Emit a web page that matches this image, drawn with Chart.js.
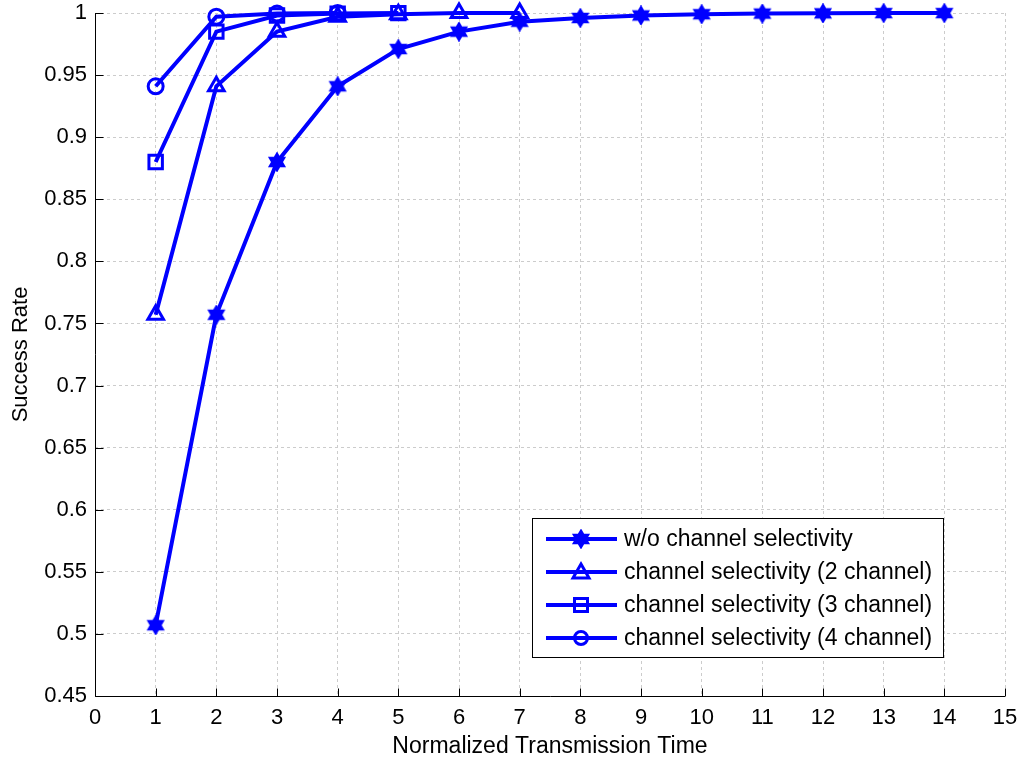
<!DOCTYPE html>
<html>
<head>
<meta charset="utf-8">
<script src="https://cdn.jsdelivr.net/npm/chart.js@4/dist/chart.umd.min.js"></script>
<style>
  body { margin: 0; background: #fff; }
  #wrap { width: 1023px; height: 760px; }
</style>
</head>
<body>
<div id="wrap"><canvas id="chart" width="1023" height="760"></canvas></div>
<script>
// valores
const xTicks = [0, 1, 2, 3, 4, 5, 6, 7, 8, 9, 10, 11, 12, 13, 14, 15];
const yTicks = [0.45, 0.5, 0.55, 0.6, 0.65, 0.7, 0.75, 0.8, 0.85, 0.9, 0.95, 1];

const xNoSel = [1, 2, 3, 4, 5, 6, 7, 8, 9, 10, 11, 12, 13, 14];
const yNoSel = [0.507, 0.757, 0.880, 0.941, 0.971, 0.985, 0.993, 0.996, 0.998, 0.999, 0.9995, 0.9997, 0.9999, 0.9999];

const x2ch = [1, 2, 3, 4, 5, 6, 7];
const y2ch = [0.757, 0.941, 0.985, 0.997, 0.999, 0.9999, 0.9999];

const x3ch = [1, 2, 3, 4, 5];
const y3ch = [0.880, 0.985, 0.998, 0.9995, 0.9999];

const x4ch = [1, 2, 3, 4];
const y4ch = [0.941, 0.997, 0.9995, 0.9999];

const labels = [
    'w/o channel selectivity',
    'channel selectivity (2 channel)',
    'channel selectivity (3 channel)',
    'channel selectivity (4 channel)'
];

const BLUE = '#0000ff';
const FONT = '"Liberation Sans", Arial, sans-serif';

// marcador hexagrama (estilo MATLAB 'h')
function hexagramPath(ctx, cx, cy, r) {
    ctx.beginPath();
    for (let i = 0; i < 12; i++) {
        const a = -Math.PI / 2 + i * Math.PI / 6;
        const rr = i % 2 === 0 ? r : r * 0.58;
        const px = cx + rr * Math.cos(a), py = cy + rr * Math.sin(a);
        if (i === 0) ctx.moveTo(px, py); else ctx.lineTo(px, py);
    }
    ctx.closePath();
}
const hexImg = document.createElement('canvas');
hexImg.width = 20; hexImg.height = 20;
{
    const c = hexImg.getContext('2d');
    hexagramPath(c, 10, 10, 8);
    c.fillStyle = BLUE; c.fill();
    c.lineWidth = 2.5; c.strokeStyle = BLUE; c.stroke();
}

const styles = [
    { pointStyle: hexImg, radius: 9 },
    { pointStyle: 'triangle', radius: 9 },
    { pointStyle: 'rect', radius: 9.5 },
    { pointStyle: 'circle', radius: 7.5 }
];

function toPoints(xs, ys) {
    return xs.map((x, i) => ({ x: x, y: ys[i] }));
}

const seriesX = [xNoSel, x2ch, x3ch, x4ch];
const seriesY = [yNoSel, y2ch, y3ch, y4ch];

const datasets = labels.map((label, i) => ({
    label: label,
    data: toPoints(seriesX[i], seriesY[i]),
    borderColor: BLUE,
    backgroundColor: 'rgba(0,0,0,0)',
    borderWidth: 4,
    pointStyle: styles[i].pointStyle,
    pointRadius: styles[i].radius,
    pointHoverRadius: styles[i].radius,
    pointBorderColor: BLUE,
    pointBackgroundColor: 'rgba(0,0,0,0)',
    pointBorderWidth: 3,
    tension: 0,
    clip: false,
    order: 3 - i
}));

// ticks para dentro + eixos sólidos + legenda dentro da área do gráfico
const matlabPlugin = {
    id: 'matlabStyle',
    afterDraw(chart) {
        const ctx = chart.ctx;
        const xs = chart.scales.x, ys = chart.scales.y;
        const area = chart.chartArea;
        ctx.save();
        ctx.setLineDash([]);
        ctx.strokeStyle = '#000';
        ctx.lineWidth = 1;
        ctx.beginPath();
        const left = Math.round(area.left) + 0.5;
        const bottom = Math.round(area.bottom) + 0.5;
        ctx.moveTo(left, Math.round(area.top));
        ctx.lineTo(left, bottom);
        ctx.lineTo(Math.round(area.right), bottom);
        ctx.stroke();

        ctx.beginPath();
        xTicks.forEach(v => {
            const px = Math.round(xs.getPixelForValue(v)) + 0.5;
            ctx.moveTo(px, bottom);
            ctx.lineTo(px, bottom - 8);
        });
        yTicks.forEach(v => {
            const py = Math.round(ys.getPixelForValue(v)) + 0.5;
            ctx.moveTo(left, py);
            ctx.lineTo(left + 8, py);
        });
        ctx.stroke();

        // legenda
        const bx = 532.5, by = 518.5, bw = 411, bh = 139;
        ctx.fillStyle = '#fff';
        ctx.fillRect(bx, by, bw, bh);
        ctx.strokeStyle = '#000';
        ctx.lineWidth = 1;
        ctx.strokeRect(bx, by, bw, bh);
        const rows = [539, 572, 605, 638];
        ctx.font = '23px ' + FONT;
        ctx.textBaseline = 'middle';
        labels.forEach((label, i) => {
            const y = rows[i];
            ctx.strokeStyle = BLUE;
            ctx.lineWidth = 4;
            ctx.beginPath();
            ctx.moveTo(546, y);
            ctx.lineTo(617, y);
            ctx.stroke();
            const cx = 581;
            ctx.lineWidth = 3;
            ctx.beginPath();
            if (i === 0) {
                ctx.drawImage(hexImg, cx - 10, y - 10);
            } else if (i === 1) {
                ctx.moveTo(cx, y - 8);
                ctx.lineTo(cx + 8, y + 6);
                ctx.lineTo(cx - 8, y + 6);
                ctx.closePath();
                ctx.stroke();
            } else if (i === 2) {
                ctx.strokeRect(cx - 6.5, y - 6.5, 13, 13);
            } else {
                ctx.arc(cx, y, 6.5, 0, Math.PI * 2);
                ctx.stroke();
            }
            ctx.fillStyle = '#000';
            ctx.fillText(label, 624, y + 1);
        });
        ctx.restore();
    }
};

const gridStyle = {
    color: '#cccccc',
    lineWidth: 1,
    drawTicks: false
};
const borderStyle = { display: false, dash: [3, 3] };

new Chart(document.getElementById('chart'), {
    type: 'line',
    data: { datasets: datasets },
    options: {
        responsive: false,
        animation: false,
        events: [],
        layout: { padding: { left: 0, top: 13, right: 18, bottom: 0 } },
        plugins: {
            legend: { display: false },
            tooltip: { enabled: false }
        },
        scales: {
            x: {
                type: 'linear',
                min: 0,
                max: 15,
                afterBuildTicks: (s) => { s.ticks = xTicks.map(v => ({ value: v })); },
                afterFit: (s) => {
                    s.height = 64;
                    s.paddingLeft = 0; s.paddingRight = 0;
                },
                ticks: {
                    color: '#000',
                    font: { family: FONT, size: 22 },
                    padding: 9,
                    maxRotation: 0,
                    autoSkip: false
                },
                grid: gridStyle,
                border: borderStyle,
                title: {
                    display: true,
                    text: 'Normalized Transmission Time',
                    color: '#000',
                    font: { family: FONT, size: 23 },
                    padding: { top: 0, bottom: 0 }
                }
            },
            y: {
                type: 'linear',
                min: 0.45,
                max: 1,
                afterBuildTicks: (s) => { s.ticks = yTicks.map(v => ({ value: v })); },
                afterFit: (s) => {
                    s.width = 95;
                    s.paddingTop = 0; s.paddingBottom = 0;
                },
                ticks: {
                    color: '#000',
                    font: { family: FONT, size: 22 },
                    padding: 8,
                    autoSkip: false,
                    callback: (v) => String(Number(Number(v).toFixed(2)))
                },
                grid: gridStyle,
                border: borderStyle,
                title: {
                    display: true,
                    text: 'Success Rate',
                    color: '#000',
                    font: { family: FONT, size: 22 },
                    padding: { top: 8, bottom: 0 }
                }
            }
        }
    },
    plugins: [matlabPlugin]
});
</script>
</body>
</html>
